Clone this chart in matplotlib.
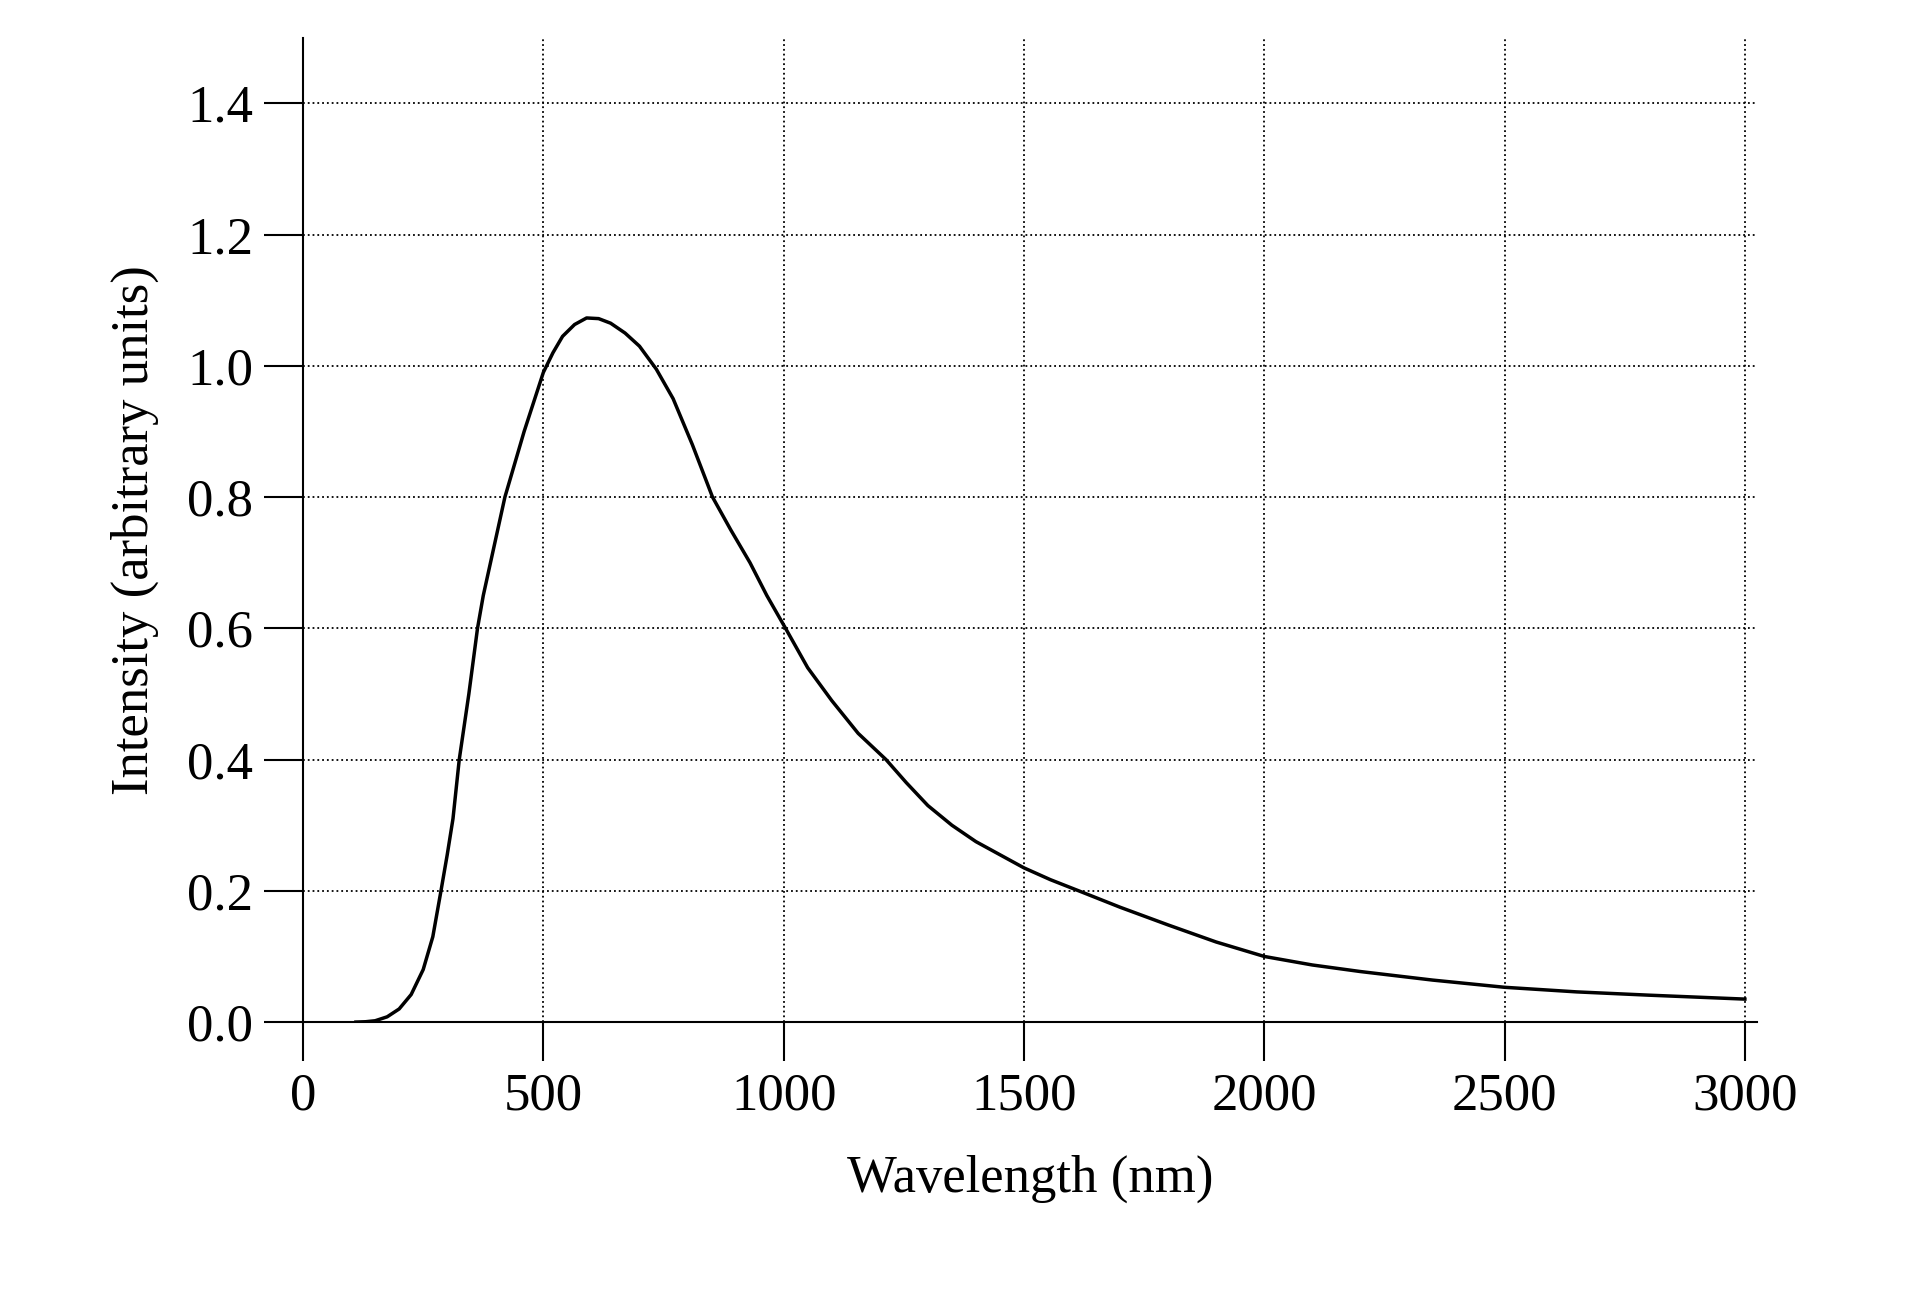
import numpy as np
import matplotlib.pyplot as plt

# values
wavelength = [110, 130, 150, 175, 200, 225, 250, 270, 287, 300, 312, 325, 335, 345, 354,
              363, 375, 390, 405, 420, 440, 460, 480, 500, 520, 540, 565, 590, 615, 640,
              670, 700, 735, 770, 810, 852, 890, 930, 965, 1004, 1050, 1100, 1155, 1213,
              1255, 1300, 1350, 1400, 1450, 1500, 1555, 1614, 1700, 1800, 1900, 2000,
              2100, 2200, 2350, 2500, 2650, 2800, 2900, 3000]
intensity = [0.0, 0.0005, 0.002, 0.008, 0.02, 0.042, 0.08, 0.13, 0.2, 0.255, 0.31, 0.4,
             0.45, 0.5, 0.55, 0.6, 0.65, 0.7, 0.75, 0.8, 0.85, 0.9, 0.945, 0.99, 1.02,
             1.045, 1.063, 1.073, 1.072, 1.065, 1.05, 1.03, 0.995, 0.95, 0.88, 0.8, 0.75,
             0.7, 0.65, 0.6, 0.54, 0.49, 0.44, 0.4, 0.365, 0.33, 0.3, 0.275, 0.255, 0.235,
             0.217, 0.2, 0.175, 0.148, 0.122, 0.1, 0.087, 0.077, 0.064, 0.053, 0.046,
             0.041, 0.038, 0.035]
xticks = [0, 500, 1000, 1500, 2000, 2500, 3000]
yticks = [0.0, 0.2, 0.4, 0.6, 0.8, 1.0, 1.2, 1.4]

plt.rcParams['font.family'] = ['Liberation Serif', 'DejaVu Serif']
fig = plt.figure(figsize=(19.18, 13.02), dpi=100)
ax = fig.add_axes([0.158, 0.215, 0.758, 0.756])

ax.plot(wavelength, intensity, color='black', lw=2.5)
ax.set_xlim(0, 3025)
ax.set_ylim(0, 1.5)
ax.set_xticks(xticks)
ax.set_yticks(yticks)
ax.set_yticklabels(['%.1f' % v for v in yticks])
ax.grid(True, linestyle=':', color='black', lw=1.3)
for s in ['top', 'right']:
    ax.spines[s].set_visible(False)
ax.spines['left'].set_linewidth(1.5)
ax.spines['bottom'].set_linewidth(1.5)
ax.tick_params(axis='both', direction='out', length=28, width=1.5, labelsize=38, pad=8)
ax.set_xlabel('Wavelength (nm)', fontsize=38, labelpad=25)
ax.set_ylabel('Intensity (arbitrary units)', fontsize=38, labelpad=20)

fig.savefig('out.png', dpi=100)
